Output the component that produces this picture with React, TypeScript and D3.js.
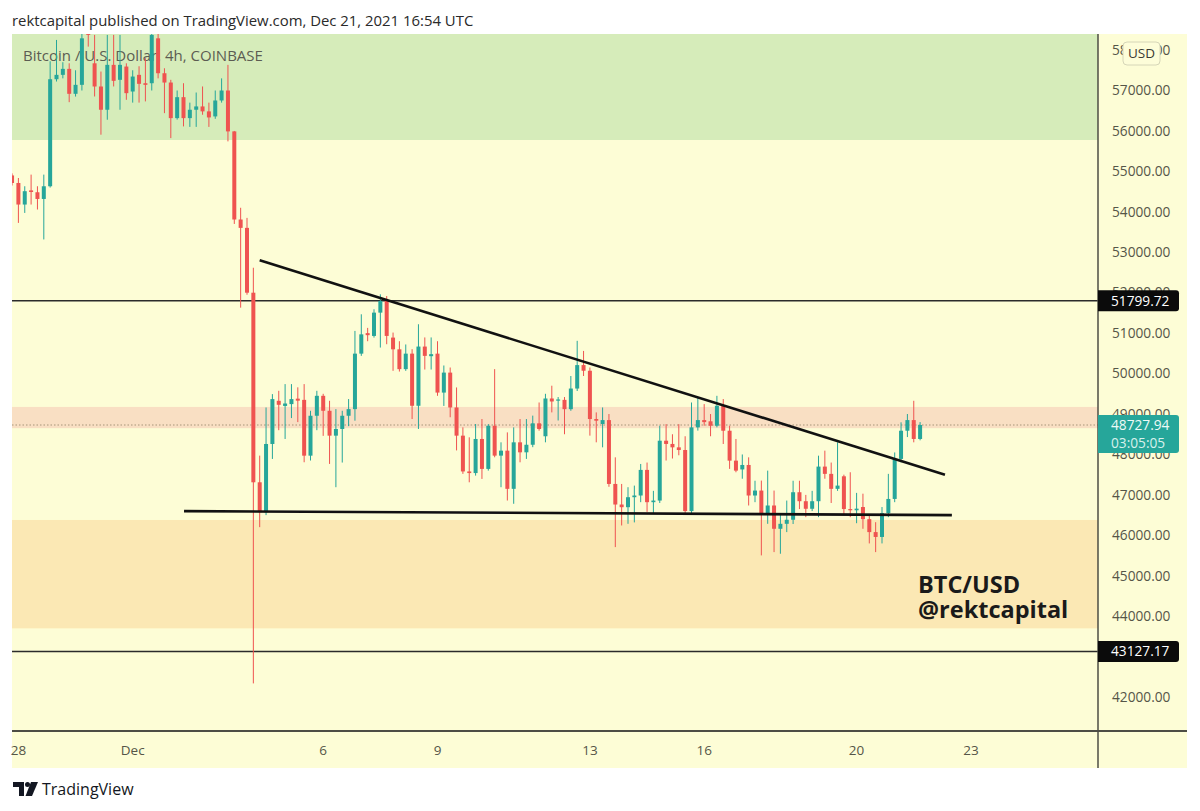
import React from 'react';
import * as d3 from 'd3';

// ---- data ----
const firstCandle = '2021-11-27T20:00:00Z'; // 4h candles, COINBASE BTC/USD
const opens = [
  54900, 54713, 54180, 54530, 54484, 54318, 54632, 57279, 57387, 57535, 56918, 57140,
  58400, 57673, 57099, 56524, 57634, 57264, 57592, 56975, 57387, 57180, 57180, 58290,
  57427, 57197, 56317, 56835, 56317, 56524, 56606, 56484, 56359, 56753, 57000, 55989,
  53810, 53603, 52000, 47312, 46572, 48259, 49327, 49200, 49245, 49380, 49350, 47970,
  48957, 49450, 49080, 48465, 48630, 48957, 49121, 50493, 51000, 50931, 51507, 51795,
  50890, 50600, 50110, 50493, 49204, 50668, 50430, 50493, 49530, 50024, 49162, 48465,
  47580, 47540, 48383, 47643, 48710, 47971, 48094, 47150, 48300, 48053, 48240, 48770,
  48450, 49384, 49330, 49350, 49120, 49630, 50210, 50070, 48876, 48753, 48850, 47271,
  46762, 46696, 46943, 46985, 47618, 46820, 46860, 48340, 48260, 48176, 48110, 46600,
  48670, 48850, 48820, 48710, 49204, 48587, 47847, 47630, 47740, 46985, 47107, 46532,
  46738, 46162, 46285, 46385, 47066, 46844, 46657, 46844, 47700, 47520, 47150, 47460,
  46650, 46620, 46700, 46400, 46080, 45960, 46550, 46900, 47890, 48587, 48850, 48383,
];
const highs = [
  54950, 54836, 54632, 54920, 54632, 54920, 57723, 58250, 57700, 57673, 57500, 58500,
  58900, 58374, 57469, 58374, 58374, 58374, 57673, 57500, 57600, 57800, 58600, 58600,
  57550, 57264, 57000, 57180, 56700, 56950, 57100, 56700, 57000, 57300, 57634, 56000,
  54100, 53850, 52617, 47971, 49162, 49492, 49574, 49740, 49740, 49660, 49740, 49080,
  49574, 49500, 49327, 49121, 49080, 49370, 51055, 51466, 51130, 51590, 51960, 51918,
  51014, 50800, 50720, 50603, 51220, 50894, 50894, 50800, 50200, 50150, 49657, 48670,
  48424, 48753, 48876, 48750, 50110, 48300, 48546, 48670, 48876, 48876, 48960, 49285,
  49500, 49700, 49420, 49420, 49940, 50810, 50560, 50150, 49040, 49162, 49000, 47929,
  47271, 47190, 47230, 47765, 47800, 47100, 48710, 48750, 48500, 48750, 48450, 49285,
  49410, 49245, 49000, 49450, 49370, 48710, 48383, 48000, 47929, 47350, 47354, 47600,
  47107, 46532, 46860, 47350, 47350, 47000, 47100, 47970, 48094, 47800, 48300, 47500,
  47560, 47050, 47030, 46500, 46325, 46700, 47520, 48050, 48795, 49000, 49327, 48800,
];
const lows = [
  54650, 53726, 53973, 54180, 54057, 53317, 54600, 57222, 57300, 56711, 56850, 57000,
  58085, 56852, 55907, 56277, 57100, 56524, 56770, 56700, 56700, 56730, 57000, 57300,
  56440, 55823, 56280, 56112, 56100, 56100, 56400, 56100, 56300, 56700, 55742, 53700,
  51630, 51950, 42339, 46202, 46500, 47889, 48600, 48383, 48900, 48800, 47807, 47850,
  48600, 48460, 47766, 47190, 47800, 48700, 48835, 50438, 50800, 50890, 50643, 50726,
  50068, 50050, 50068, 48876, 48630, 50100, 50100, 49450, 49200, 48920, 48100, 47520,
  47312, 47477, 47395, 47600, 47930, 47190, 46861, 46780, 47806, 47890, 48180, 48588,
  48300, 49040, 48840, 48500, 49080, 49570, 49940, 48465, 48300, 48176, 47200, 45709,
  46244, 46285, 46320, 46820, 46580, 46530, 46800, 47850, 47900, 47980, 46530, 46530,
  48590, 48710, 48450, 48670, 48259, 47643, 47560, 47400, 46738, 46820, 45504, 46285,
  45585, 45545, 46080, 46280, 46650, 46450, 46600, 46450, 47400, 46800, 47100, 46500,
  46450, 46300, 46162, 45800, 45585, 45800, 46450, 46820, 47806, 48430, 48300, 48350,
];
const closes = [
  54713, 54180, 54510, 54490, 54318, 54632, 57279, 57387, 57535, 56918, 57140, 58290,
  58380, 57099, 56524, 57634, 57239, 57634, 56934, 57345, 57165, 57140, 58374, 57427,
  57197, 56317, 56835, 56317, 56524, 56606, 56484, 56334, 56753, 57000, 55989, 53810,
  53603, 52000, 47312, 46572, 48259, 49369, 49228, 49260, 49369, 49330, 47970, 48957,
  49450, 49080, 48465, 48630, 48957, 49121, 50493, 50970, 50950, 51507, 51795, 50931,
  50600, 50110, 50493, 49204, 50668, 50438, 50480, 49530, 50024, 49162, 48465, 47580,
  47540, 48383, 47643, 48710, 47971, 48094, 47150, 48300, 48053, 48240, 48770, 48630,
  49384, 49310, 49360, 49120, 49630, 50210, 50070, 48876, 48835, 48850, 47271, 46762,
  46696, 46943, 46985, 47618, 46820, 46860, 48340, 48260, 48176, 48110, 46600, 48670,
  48850, 48800, 48710, 49204, 48587, 47847, 47600, 47740, 46985, 47107, 46532, 46738,
  46162, 46285, 46385, 47066, 46844, 46657, 46844, 47700, 47520, 47150, 47230, 46650,
  46620, 46660, 46400, 46080, 45960, 46550, 46900, 47890, 48587, 48850, 48383, 48727.94,
];

const priceTicks = [42000, 43000, 44000, 45000, 46000, 47000, 48000, 49000, 50000, 51000, 52000, 53000, 54000, 55000, 56000, 57000, 58000];
const timeTicks = [
  { date: '2021-11-28T00:00:00Z', label: '28' },
  { date: '2021-12-01T00:00:00Z', label: 'Dec' },
  { date: '2021-12-06T00:00:00Z', label: '6' },
  { date: '2021-12-09T00:00:00Z', label: '9' },
  { date: '2021-12-13T00:00:00Z', label: '13' },
  { date: '2021-12-16T00:00:00Z', label: '16' },
  { date: '2021-12-20T00:00:00Z', label: '20' },
  { date: '2021-12-23T00:00:00Z', label: '23' },
];
const levelLines = [51799.72, 43127.17];
const lastPrice = 48727.94;
const countdown = '03:05:05';
const greenZone = [55776, 60000];
const supplyBand = [48650, 49175];
const demandZone = [43700, 46380];
const upperTrend = [
  { date: '2021-12-04T08:00:00Z', price: 52800 },
  { date: '2021-12-22T07:40:00Z', price: 47500 },
];
const lowerTrend = [
  { date: '2021-12-02T08:20:00Z', price: 46600 },
  { date: '2021-12-22T12:00:00Z', price: 46500 },
];

// ---- layout ----
const W = 1200, H = 811;
const plotL = 12, plotR = 1098, plotT = 34, plotB = 731;
const panelR = 1187, panelB = 768;
const UP = '#26a69a', DOWN = '#ef5350';
const FONT = '"Open Sans", "Noto Sans", sans-serif';

const y = d3.scaleLinear().domain([42000, 57000]).range([697.1, 90.5]);
const x = d3.scaleUtc()
  .domain([new Date('2021-12-01T00:00:00Z'), new Date('2021-12-23T00:00:00Z')])
  .range([132.7, 132.7 + 22 * 38.1]);

const t0 = new Date(firstCandle);
const candles = opens.map((o, i) => ({
  t: d3.utcHour.offset(t0, 4 * i),
  o, h: highs[i], l: lows[i], c: closes[i],
}));

const fmt = d3.format('.2f');

export default function App() {
  const bodyW = 4;
  const line = d3.line<{ date: string; price: number }>()
    .x(d => x(new Date(d.date)))
    .y(d => y(d.price));
  const clampY = (v: number) => Math.max(plotT, Math.min(plotB, v));
  const zoneRect = (z: number[], fill: string, key: string) => {
    const top = clampY(y(z[1]));
    const bot = clampY(y(z[0]));
    return <rect key={key} x={plotL} y={top} width={plotR - plotL} height={bot - top} fill={fill} />;
  };
  const lastY = y(lastPrice);

  return (
    <svg width={W} height={H} style={{ position: 'absolute', left: 0, top: 0, background: '#fff' }}
      xmlns="http://www.w3.org/2000/svg">
      <defs>
        <clipPath id="plot">
          <rect x={plotL} y={plotT} width={plotR - plotL} height={plotB - plotT} />
        </clipPath>
      </defs>
      <rect x={0} y={0} width={W} height={H} fill="#ffffff" />
      {/* header */}
      <text x={12} y={26} fontFamily={FONT} fontSize={14.9} fill="#2a2a2a">
        rektcapital published on TradingView.com, Dec 21, 2021 16:54 UTC
      </text>

      {/* panel */}
      <rect x={plotL} y={plotT} width={panelR - plotL} height={panelB - plotT} fill="#fdfdd6" />
      <g clipPath="url(#plot)">
        {zoneRect(greenZone, '#d6ecba', 'g')}
        {zoneRect(demandZone, '#fbe8b4', 'd')}
        {zoneRect(supplyBand, '#f9dfc3', 's')}
        <text x={23} y={61} fontFamily={FONT} fontSize={15} fill="#5c5c52">
          Bitcoin / U.S. Dollar, 4h, COINBASE
        </text>
        {levelLines.map(p => (
          <line key={p} x1={plotL} x2={plotR} y1={y(p)} y2={y(p)} stroke="#2b2b2b" strokeWidth={1.4} />
        ))}
        <line x1={plotL} x2={plotR} y1={lastY} y2={lastY} stroke="#a8957a" strokeWidth={1.2}
          strokeDasharray="1.5 2" />
        {candles.map((d, i) => {
          const col = d.c >= d.o ? UP : DOWN;
          const cx = x(d.t);
          const top = y(Math.max(d.o, d.c));
          const bot = y(Math.min(d.o, d.c));
          return (
            <g key={i}>
              <line x1={cx} x2={cx} y1={y(d.h)} y2={y(d.l)} stroke={col} strokeWidth={1} />
              <rect x={cx - bodyW / 2} y={top} width={bodyW} height={Math.max(1, bot - top)} fill={col} />
            </g>
          );
        })}
        <path d={line(upperTrend) || ''} stroke="#111" strokeWidth={2.6} fill="none" />
        <path d={line(lowerTrend) || ''} stroke="#111" strokeWidth={2.6} fill="none" />
      </g>

      <text x={918} y={593} fontFamily={FONT} fontWeight={700} fontSize={23.5} fill="#1a1a1a">BTC/USD</text>
      <text x={918} y={618} fontFamily={FONT} fontWeight={700} fontSize={23.5} fill="#1a1a1a">@rektcapital</text>

      {/* axes lines */}
      <line x1={plotL} x2={panelR} y1={plotB} y2={plotB} stroke="#4d4d45" strokeWidth={2} />
      <line x1={plotR} x2={plotR} y1={plotT} y2={panelB} stroke="#4d4d45" strokeWidth={1.5} />

      {/* price ticks */}
      {priceTicks.map(p => (
        <text key={p} x={1112} y={y(p)} dy="0.35em" fontFamily={FONT} fontSize={13.7} fill="#555548">
          {fmt(p)}
        </text>
      ))}

      {/* level labels */}
      {levelLines.map(p => (
        <g key={'lb' + p}>
          <path d={`M${plotR},${y(p) - 10.5} h78 a3,3 0 0 1 3,3 v15 a3,3 0 0 1 -3,3 h-78 z`} fill="#0b0b0b" />
          <text x={1111} y={y(p)} dy="0.36em" fontFamily={FONT} fontSize={13.7} fill="#ffffff">{fmt(p)}</text>
        </g>
      ))}
      <path d={`M${plotR},${lastY - 10} h78 a3,3 0 0 1 3,3 v32 a3,3 0 0 1 -3,3 h-78 z`} fill="#26a69a" />
      <text x={1111} y={lastY} dy="0.36em" fontFamily={FONT} fontSize={13.7} fill="#eefaf7">{fmt(lastPrice)}</text>
      <text x={1111} y={lastY + 18} dy="0.36em" fontFamily={FONT} fontSize={13.7} fill="#d8f1ec">{countdown}</text>

      {/* USD badge */}
      <rect x={1123} y={42} width={37} height={23} rx={4} fill="#fdfdd9" stroke="#d6d6b8" />
      <text x={1141.5} y={53.5} dy="0.36em" textAnchor="middle" fontFamily={FONT} fontSize={13.5} fill="#3a3a34">USD</text>

      {/* time ticks */}
      {timeTicks.map(t => (
        <text key={t.label} x={x(new Date(t.date))} y={750} dy="0.35em" textAnchor="middle"
          fontFamily={FONT} fontSize={13.5} fill="#555548">{t.label}</text>
      ))}

      {/* TradingView footer */}
      <g fill="#131722">
        <path d="M13,782 H24 V796 H19 V787 H13 Z" />
        <circle cx={27.5} cy={784.5} r={2.5} />
        <path d="M31,782 H38 L32,796 H25.5 Z" />
      </g>
      <text x={42} y={795} fontFamily={FONT} fontSize={16} fill="#131722">TradingView</text>
    </svg>
  );
}
